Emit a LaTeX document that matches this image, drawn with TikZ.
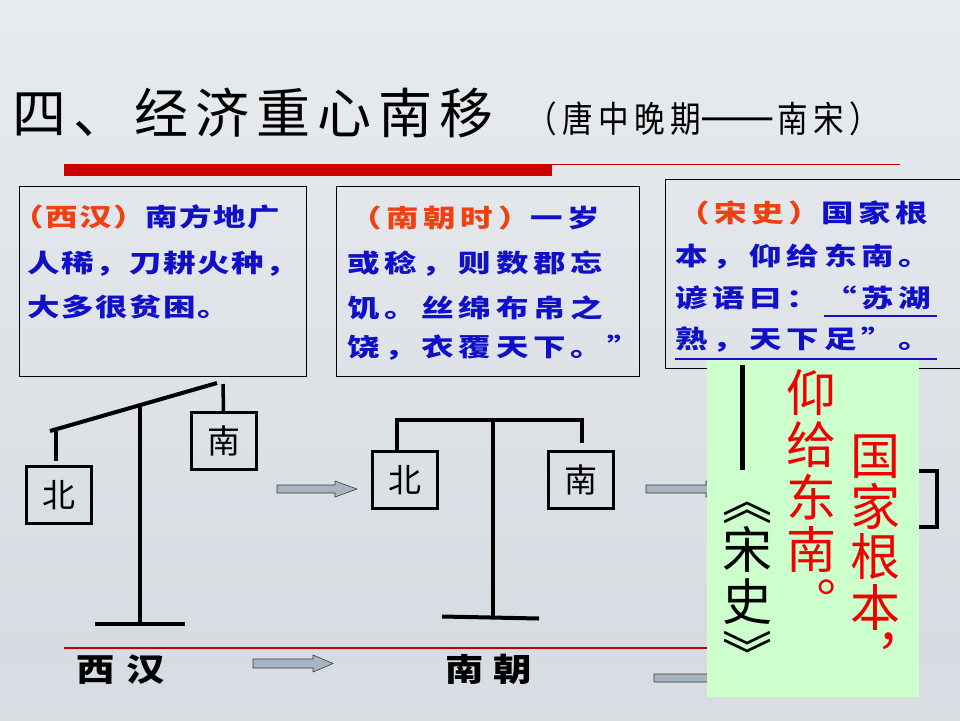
\documentclass[tikz,border=0pt]{standalone}
\usepackage{fontspec}
\newfontfamily\cjk{Noto Sans CJK SC}
\newfontfamily\titlefont{Noto Sans CJK SC}[LetterSpace=13]
\newfontfamily\subfont{Noto Sans CJK SC}[FakeStretch=0.85,LetterSpace=15]
\newfontfamily\boxfontA{Noto Sans CJK SC}[FakeStretch=1.3,LetterSpace=6]
\newfontfamily\boxfontB{Noto Sans CJK SC}[FakeStretch=1.3,LetterSpace=19]
\newfontfamily\labfont{Noto Sans CJK SC}[FakeStretch=1.2]
\definecolor{bgtop}{HTML}{F8F9FA}
\definecolor{bglight}{HTML}{E8EBEE}
\definecolor{bgmid}{HTML}{D7DCE2}
\definecolor{bgbot}{HTML}{E4E7EB}
\definecolor{barred}{HTML}{CC0000}
\definecolor{lineRed}{HTML}{C00000}
\definecolor{txtblue}{HTML}{1010C8}
\definecolor{txtred}{HTML}{F04010}
\definecolor{vred}{HTML}{F00000}
\definecolor{arrfill}{HTML}{A7B4C3}
\definecolor{arrline}{HTML}{3A3A3A}
\definecolor{greenbg}{HTML}{CCFFCC}
\pgfdeclareverticalshading{bgshade}{100bp}{color(0bp)=(bgbot); color(30bp)=(bgmid); color(75bp)=(bglight); color(100bp)=(bgtop)}
\newcommand\fA{\boxfontA\bfseries\fontsize{25}{30}\selectfont}
\newcommand\fB{\boxfontB\bfseries\fontsize{25}{30}\selectfont}
\begin{document}
\begin{tikzpicture}[x=1pt,y=-1pt,
  txt/.style={inner sep=0pt, anchor=base west},
  tbox/.style={draw=black, line width=0.8pt, inner sep=0pt},
  wbox/.style={draw=black, line width=3pt, minimum width=65pt, minimum height=57pt, inner sep=0pt, font=\cjk\fontsize{33}{36}\selectfont},
  beam/.style={line width=4pt, line cap=butt},
  hang/.style={line width=3.5pt},
  blockarr/.style={fill=arrfill, draw=arrline, line width=0.6pt},
  vchar/.style={inner sep=0pt, anchor=base, font=\cjk\fontsize{50}{52}\selectfont},
  vbrack/.style={inner sep=0pt, anchor=center, rotate=-90, font=\cjk\fontsize{50}{52}\selectfont}]
\useasboundingbox (0,0) rectangle (960,720);
\begin{scope}
\clip (0,0) rectangle (960,720);
\shade[shading=bgshade] (0,0) rectangle (960,720);

% title
\node[txt, font=\titlefont\fontsize{54}{60}\selectfont] (title) at (12,133) {四、经济重心南移};
\node[txt, font=\subfont\fontsize{36}{40}\selectfont] (subtitle) at (526,132.5) {（唐中晚期\scalebox{1.45}[1.3]{——}\hspace{2pt}南宋）};
\fill[barred] (64,164) rectangle (552,176);
\draw[barred, line width=1pt] (552,164.5) -- (900,164.5);

% text boxes
\node[tbox, minimum width=287pt, minimum height=190pt] (box1) at (162.5,281) {};
\node[tbox, minimum width=303pt, minimum height=190pt] (box2) at (487.5,281) {};
\node[tbox, minimum width=300pt, minimum height=189pt] (box3) at (815,273.5) {};

\node[txt, font=\fA, text=txtblue] (t11) at (11,226.5) {\textcolor{txtred}{（西汉）}南方地广};
\node[txt, font=\fA, text=txtblue] (t12) at (27,272.5) {人稀，刀耕火种，};
\node[txt, font=\fA, text=txtblue] (t13) at (27,316.5) {大多很贫困。};

\node[txt, font=\fB, text=txtblue] (t21) at (349,227.5) {\textcolor{txtred}{（南朝时）}一岁};
\node[txt, font=\fB, text=txtblue] (t22) at (347,272.5) {或稔，则数郡忘};
\node[txt, font=\fB, text=txtblue] (t23) at (347,317.5) {饥。丝绵布帛之};
\node[txt, font=\fB, text=txtblue] (t24) at (347,356) {饶，衣覆天下。”};

\node[txt, font=\fB, text=txtblue] (t31) at (677,222.5) {\textcolor{txtred}{（宋史）}国家根};
\node[txt, font=\fB, text=txtblue] (t32) at (675,265.5) {本，仰给东南。};
\node[txt, font=\fB, text=txtblue] (t33) at (675,307.5) {谚语曰：“苏湖};
\node[txt, font=\fB, text=txtblue] (t34) at (675,348.5) {熟，天下足”。};

% left balance
\node[wbox] (bei1) at (58.5,495) {北};
\node[wbox] (nan1) at (223.5,441) {南};
\draw[beam] (50,431) -- (217,383);
\draw[hang] (56,430) -- (56,461);
\draw[hang] (223,384) -- (nan1.north);
\draw[beam] (140,405) -- (140,622);
\draw[beam] (95,624) -- (185,624);

% middle balance
\node[wbox] (bei2) at (405,480) {北};
\node[wbox] (nan2) at (581,480) {南};
\draw[hang, line join=miter] (397,452) -- (397,420) -- (582,420) -- (582,443);
\draw[beam] (493,420) -- (493,617);
\draw[beam] (442,616.5) -- (539,618.5);

% arrows
\draw[blockarr] (277,485) -- (335,485) -- (335,481) -- (357,489) -- (335,497) -- (335,493) -- (277,493) -- cycle;
\draw[blockarr] (253,659) -- (313,659) -- (313,655) -- (333,663.5) -- (313,672) -- (313,668) -- (253,668) -- cycle;
\draw[blockarr] (646,485) -- (706,485) -- (706,481) -- (728,489) -- (706,497) -- (706,493) -- (646,493) -- cycle;
\draw[blockarr] (654,674) -- (712,674) -- (712,670) -- (732,678) -- (712,686) -- (712,682) -- (654,682) -- cycle;

% bottom labels and line
\draw[lineRed, line width=1.2pt] (64,648) -- (720,648);
\node[txt, font=\labfont\bfseries\fontsize{32}{36}\selectfont] (xihan) at (76,681.5) {西\hspace{12pt}汉};
\node[txt, font=\labfont\bfseries\fontsize{32}{36}\selectfont] (nanchao) at (445,681.5) {南\hspace{10pt}朝};

% bracket
\draw[line width=3.5pt] (905,471) -- (937,471) -- (937,527) -- (905,527);

% green note
\fill[greenbg] (707,359) rectangle (919,697);
\draw[txtblue, line width=1.8pt] (824,316) -- (937,316);
\draw[txtblue, line width=1.8pt] (675,359) -- (937,359);
\draw[line width=5pt] (742,365) -- (742,470);
\foreach \c [count=\i from 0] in {仰,给,东,南,︒}
  \node[vchar, text=vred] (ra\i) at (811,411.5+\i*52.3) {\c};
\foreach \c [count=\i from 0] in {国,家,根,本,︐}
  \node[vchar, text=vred] (rb\i) at (875,474.5+\i*50.5) {\c};
\node[vchar] (bk1) at (747,568) {宋};
\node[vchar] (bk2) at (747,620) {史};
\node[vbrack] (bk0) at (747,500) {《};
\node[vbrack] (bk3) at (747,654) {》};
\end{scope}
\end{tikzpicture}
\end{document}
